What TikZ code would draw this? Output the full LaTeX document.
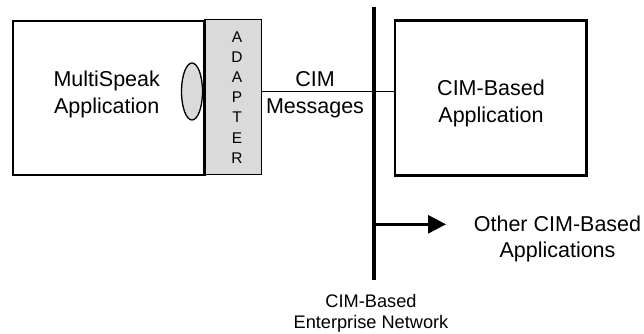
\documentclass[tikz,border=0pt]{standalone}
\usepackage{fontspec}
\setmainfont{Liberation Sans}
\usetikzlibrary{arrows.meta,shapes.geometric}
\definecolor{adgray}{RGB}{218,218,218}
\tikzset{
  appbox/.style={draw=black, line width=2.8pt, fill=white},
  adbox/.style={draw=black, line width=1.4pt, fill=adgray},
  maintext/.style={font=\fontsize{21.5}{26.8}\selectfont, align=center, inner sep=0pt},
  smalltext/.style={font=\fontsize{18.2}{20.6}\selectfont, align=center, inner sep=0pt},
  adtext/.style={font=\fontsize{15.5}{20.1}\selectfont, align=center, inner sep=0pt},
  netline/.style={line width=4.3pt},
  msgline/.style={line width=1.3pt},
  outarrow/.style={line width=3pt, -{Triangle[length=18pt,width=18pt]}}
}
\begin{document}
\begin{tikzpicture}[x=1pt,y=-1pt]
\useasboundingbox (0,0) rectangle (644,333);
% adapter
\path[adbox] (205,19.5) rectangle (261.7,174.5);
\coordinate (adR) at (261.7,91.7);
% MultiSpeak box
\path[appbox] (13,21) rectangle (204.5,175);
\node[draw=black, line width=1.3pt, fill=adgray, ellipse, minimum width=21pt, minimum height=57pt, inner sep=0pt] (ell) at (192,91.5) {};
\node[maintext] (ms) at (106.7,94.4) {MultiSpeak\\Application};
\node[adtext] (ad) at (237,97.5) {A\\D\\A\\P\\T\\E\\R};
% CIM-based application box
\node[appbox, minimum width=191.7pt, minimum height=155pt, inner sep=0pt] (cim) at (490.85,98) {};
\node[maintext] (cimt) at (491,103.5) {CIM-Based\\Application};
% network line
\coordinate (ntop) at (373.8,6.7);
\coordinate (nbot) at (373.8,280);
\draw[netline] (ntop) -- (nbot);
% message line
\draw[msgline] (adR) -- (cim.west |- adR);
\node[maintext] (msg) at (315,94.6) {CIM\\Messages};
% arrow
\coordinate (abase) at (373.8,224.3);
\coordinate (atip) at (446,224.3);
\draw[outarrow] (abase) -- (atip);
\node[maintext] (other) at (557.5,239) {Other CIM-Based\\Applications};
\node[smalltext] (net) at (371,313) {CIM-Based\\Enterprise Network};
\end{tikzpicture}
\end{document}
